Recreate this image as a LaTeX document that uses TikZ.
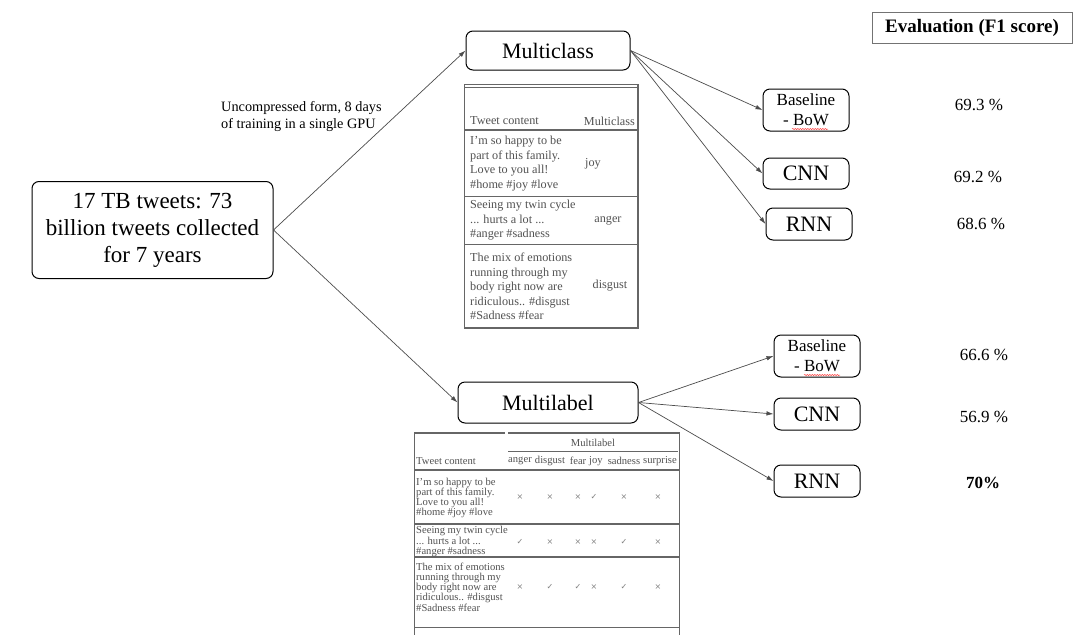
\documentclass[tikz,border=0pt]{standalone}
\usepackage{fontspec}
\setmainfont{Liberation Serif}
\newfontfamily\symfont{DejaVu Sans}
\usetikzlibrary{arrows.meta,decorations.pathmorphing}

\begin{document}
\begin{tikzpicture}[x=1pt,y=-1pt,
  box/.style={draw=black, line width=1pt, rounded corners=7pt, inner sep=0pt, align=center},
  bigtext/.style={font=\fontsize{22}{26}\selectfont},
  smalltext/.style={font=\fontsize{17}{20}\selectfont},
  conn/.style={draw=black!70, line width=0.7pt, -{Latex[length=7pt,width=4.5pt]}},
  score/.style={inner sep=0pt, font=\fontsize{17}{20}\selectfont},
  tbl/.style={draw=black!60, line width=1pt},
  tblthick/.style={draw=black!60, line width=1.4pt},
  mctext/.style={text=black!68, inner sep=0pt, align=left, font=\fontsize{12.2}{14.5}\selectfont},
  mltext/.style={text=black!68, inner sep=0pt, align=left, font=\fontsize{10.6}{10.2}\selectfont},
  lblmark/.style={text=black!50, inner sep=0pt, font=\symfont\fontsize{8}{8}\selectfont},
  squiggle/.style={draw=red!75, line width=0.5pt, decorate, decoration={snake, amplitude=0.6pt, segment length=2.5pt}}
]
\useasboundingbox (0,0) rectangle (1073,635);
\fill[white] (0,0) rectangle (1073,635);

% ---- main flow ----
\node[box, font=\fontsize{23}{27}\selectfont, minimum width=241pt, minimum height=97pt] (src) at (152.5,230)
  {17 TB tweets: 73\\billion tweets collected\\for 7 years};
\node[box, bigtext, minimum width=164pt, minimum height=39pt] (mc) at (548,50.5) {Multiclass};
\node[box, bigtext, minimum width=180pt, minimum height=41pt] (ml) at (548,402.5) {Multilabel};

\node[inner sep=0pt, align=left, anchor=west, font=\fontsize{14.3}{17}\selectfont] (note) at (221,116.5)
  {Uncompressed form, 8 days\\of training in a single GPU};

% multiclass models
\node[box, smalltext, minimum width=86pt, minimum height=42pt] (bl1) at (806,110) {Baseline\\- BoW};
\node[box, bigtext, minimum width=86pt, minimum height=31pt] (cnn1) at (806,173.5) {CNN};
\node[box, bigtext, minimum width=86pt, minimum height=32pt] (rnn1) at (809,224) {RNN};

% multilabel models
\node[box, smalltext, minimum width=86pt, minimum height=42pt] (bl2) at (817,356) {Baseline\\- BoW};
\node[box, bigtext, minimum width=86pt, minimum height=32pt] (cnn2) at (817,414) {CNN};
\node[box, bigtext, minimum width=86pt, minimum height=32pt] (rnn2) at (817,481) {RNN};

% spell-check underline under BoW
\draw[squiggle] (792,129) -- (828,129);
\draw[squiggle] (804,375) -- (840,375);

% connectors
\draw[conn] (src.east) -- (mc.west);
\draw[conn] (src.east) -- (ml.west);
\draw[conn] (mc.east) -- (bl1.west);
\draw[conn] (mc.east) -- (cnn1.west);
\draw[conn] (mc.east) -- (rnn1.west);
\draw[conn] (ml.east) -- (bl2.west);
\draw[conn] (ml.east) -- (cnn2.west);
\draw[conn] (ml.east) -- (rnn2.west);

% ---- evaluation column ----
\node[draw=black!55, line width=0.8pt, inner sep=0pt, minimum width=200pt, minimum height=31pt,
      font=\bfseries\fontsize{19}{22}\selectfont] (eval) at (972,27.5) {Evaluation (F1 score)};
\node[score] (s1) at (979,105) {69.3 \%};
\node[score] (s2) at (978,177) {69.2 \%};
\node[score] (s3) at (981,224) {68.6 \%};
\node[score] (s4) at (984,355) {66.6 \%};
\node[score] (s5) at (984,417) {56.9 \%};
\node[score, font=\bfseries\fontsize{17}{20}\selectfont] (s6) at (983,483) {70\%};

% ---- multiclass example table ----
\draw[tbl] (464,84) rectangle (638,328);
\draw[tbl] (464,87) -- (638,87);
\draw[tblthick] (464,130) -- (638,130);
\draw[tbl] (464,196) -- (638,196);
\draw[tbl] (464,244) -- (638,244);
\draw[tblthick] (464,328) -- (638,328);
\draw[tblthick] (638,84) -- (638,328);

\node[mctext, anchor=west] (mch1) at (470,121) {Tweet content};
\node[mctext, anchor=east] (mch2) at (635,121) {Multiclass};
\node[mctext, anchor=west] (mcr1) at (470,163.5)
  {I'm so happy to be\\part of this family.\\Love to you all!\\\#home \#joy \#love};
\node[mctext] (mcv1) at (593,163.5) {joy};
\node[mctext, anchor=west] (mcr2) at (470,220.5)
  {Seeing my twin cycle\\... hurts a lot ...\\\#anger \#sadness};
\node[mctext] (mcv2) at (608,221) {anger};
\node[mctext, anchor=west] (mcr3) at (470,286.5)
  {The mix of emotions\\running through my\\body right now are\\ridiculous.. \#disgust\\\#Sadness \#fear};
\node[mctext] (mcv3) at (610,286) {disgust};

% ---- multilabel example table ----
\draw[tbl] (414,432) -- (414,635);
\draw[tbl] (679,432) -- (679,635);
\draw[tblthick] (414,433) -- (505,433);
\draw[tblthick] (508,433) -- (679,433);
\draw[tbl] (508,451) -- (678,451);
\draw[tblthick] (414,470) -- (679,470);
\draw[tblthick] (414,524) -- (679,524);
\draw[tblthick] (414,557) -- (679,557);
\draw[tbl] (414,627) -- (679,627);

\node[mltext] (mlh) at (593,443) {Multilabel};
\node[mltext, anchor=west] (mlh0) at (416,461) {Tweet content};
\node[mltext] (mlh1) at (520,461) {anger};
\node[mltext] (mlh2) at (550,461) {disgust};
\node[mltext] (mlh3) at (578,461) {fear};
\node[mltext] (mlh4) at (596,461) {joy};
\node[mltext] (mlh5) at (624,461) {sadness};
\node[mltext] (mlh6) at (660,461) {surprise};

\node[mltext, anchor=west] (mlr1) at (416,498)
  {I'm so happy to be\\part of this family.\\Love to you all!\\\#home \#joy \#love};
\node[mltext, anchor=west] (mlr2) at (416,541.5)
  {Seeing my twin cycle\\... hurts a lot ...\\\#anger \#sadness};
\node[mltext, anchor=west] (mlr3) at (416,587)
  {The mix of emotions\\running through my\\body right now are\\ridiculous.. \#disgust\\\#Sadness \#fear};

% label marks: 1 = tick, 0 = cross
\foreach \row/\y/\marks in {1/497/{0,0,0,1,0,0}, 2/542/{1,0,0,0,1,0}, 3/587/{0,1,1,0,1,0}} {
  \foreach \m [count=\c] in \marks {
    \pgfmathsetmacro{\xx}{{520,550,578,594,624,658}[\c-1]}
    \ifnum\m=1
      \node[lblmark] (mk-\row-\c) at (\xx,\y) {✓};
    \else
      \node[lblmark] (mk-\row-\c) at (\xx,\y) {×};
    \fi
  }
}
\end{tikzpicture}
\end{document}
